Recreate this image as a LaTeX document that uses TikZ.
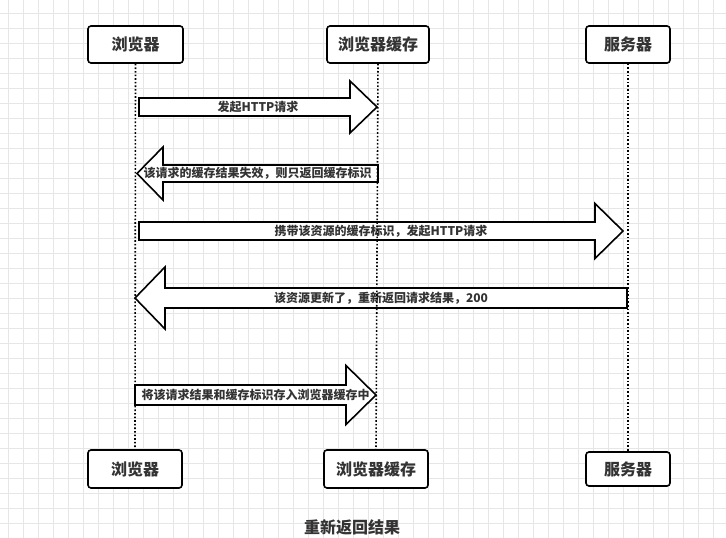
\documentclass[tikz,border=0pt]{standalone}
\usepackage{fontspec}
\setmainfont{Noto Sans CJK SC}
\definecolor{ink}{HTML}{333333}
\definecolor{gridgray}{HTML}{E6E6E6}

% fat message arrow: tail x, head base x, tip x, y, body half, head half, name, text
\newcommand{\fatarrow}[8]{%
  \draw[fat] (#1,#4-#5) -- (#2,#4-#5) -- (#2,#4-#6) -- (#3,#4)
    -- (#2,#4+#6) -- (#2,#4+#5) -- (#1,#4+#5) -- cycle;
  \node[msg] (#7) at ({(#1+#3)/2},#4) {#8};}

\begin{document}
\begin{tikzpicture}[x=1pt, y=-1pt,
    party/.style={draw=black, line width=1.6pt, rounded corners=3pt, fill=white,
      text=ink, font=\fontsize{16}{18}\selectfont\bfseries, inner sep=0pt},
    life/.style={line width=1.6pt, dash pattern=on 1.6pt off 2pt},
    fat/.style={draw=black, line width=1.6pt, fill=white, line join=miter},
    msg/.style={text=ink, font=\fontsize{12}{14}\selectfont\bfseries, inner sep=0pt},
    gridline/.style={gridgray, line width=0.6pt}]
  \useasboundingbox (0,0) rectangle (726,538);
  \fill[white] (0,0) rectangle (726,538);

  % background grid
  \foreach \gx in {8,23,...,726}
    \draw[gridline] (\gx,0) -- (\gx,538);
  \foreach \gy in {13,28,...,538}
    \draw[gridline] (0,\gy) -- (726,\gy);

  % parties, top and bottom
  \node[party, minimum width=95pt, minimum height=37pt] (B1) at (135.5,44.5) {浏览器};
  \node[party, minimum width=102pt, minimum height=37pt] (C1) at (378,44.5) {浏览器缓存};
  \node[party, minimum width=84pt, minimum height=37pt] (S1) at (628,44.5) {服务器};

  \node[party, minimum width=94pt, minimum height=38pt] (B2) at (135,469) {浏览器};
  \node[party, minimum width=104pt, minimum height=38pt] (C2) at (376,469) {浏览器缓存};
  \node[party, minimum width=84pt, minimum height=34pt] (S2) at (628,469) {服务器};

  % messages
  \fatarrow{139}{350}{377}{107}{9}{26}{m1}{发起HTTP请求}
  \fatarrow{378}{163}{137}{173.5}{8.5}{26.5}{m2}{该请求的缓存结果失效，则只返回缓存标识}
  \fatarrow{139}{595}{623}{231}{9}{27.5}{m3}{携带该资源的缓存标识，发起HTTP请求}
  \fatarrow{627}{165}{135}{298}{10}{31}{m4}{该资源更新了，重新返回请求结果，200}
  \fatarrow{135}{346}{376}{395}{10}{29.5}{m5}{将该请求结果和缓存标识存入浏览器缓存中}

  % lifelines
  \draw[life] (B1.south) -- (B2.north);
  \draw[life] (C1.south) -- (C2.north);
  \draw[life] (S1.south) -- (S2.north);

  \node[text=ink, font=\fontsize{16}{18}\selectfont\bfseries] (title) at (352,527) {重新返回结果};
\end{tikzpicture}
\end{document}
